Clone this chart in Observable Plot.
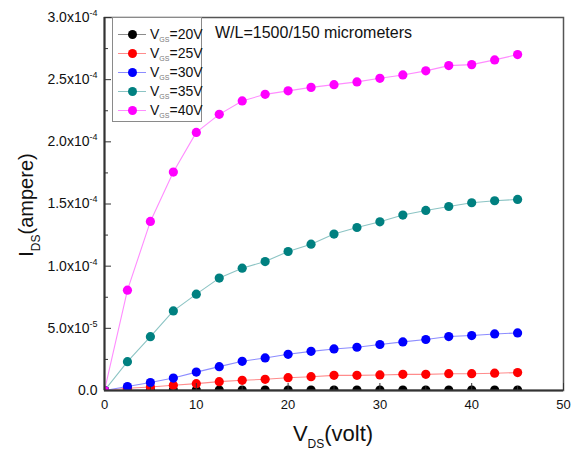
<!DOCTYPE html>
<html>
<head>
<meta charset="utf-8">
<script src="https://cdn.jsdelivr.net/npm/d3@7"></script>
<script src="https://cdn.jsdelivr.net/npm/@observablehq/plot@0.6"></script>
<style>
  body { margin: 0; background: #fff; font-family: "Liberation Sans", Arial, sans-serif; }
  #wrap { position: relative; width: 571px; height: 452px; overflow: hidden; }
  .legend { position: absolute; left: 112px; top: 17px; width: 90px; height: 105px; border: 1px solid #8a8a8a; box-sizing: border-box; background: #fff; }
  .row { position: absolute; left: 0; width: 100%; height: 19px; }
  .row .ln { position: absolute; left: 5px; width: 28px; top: 9px; height: 1px; }
  .row .dt { position: absolute; left: 15px; top: 5px; width: 9px; height: 9px; border-radius: 50%; }
  .row .tx { position: absolute; left: 37px; top: 0; font-size: 14px; line-height: 19px; color: #111; white-space: nowrap; }
  .row .tx sub { font-size: 7px; color: #777; vertical-align: -3px; }
  .note { position: absolute; left: 215px; top: 24px; font-size: 16px; line-height: 18px; color: #111; white-space: nowrap; }
  .xlab { position: absolute; left: 233px; width: 200px; top: 423px; text-align: center; font-size: 22px; line-height: 22px; color: #111; white-space: nowrap; }
  .xlab sub, .ylab sub { font-size: 12px; vertical-align: -7px; }
  .ylab { position: absolute; left: -74px; width: 200px; top: 193px; height: 24px; text-align: center; font-size: 20px; line-height: 24px; color: #111; white-space: nowrap; transform: rotate(-90deg); transform-origin: 50% 50%; }
</style>
</head>
<body>
<div id="wrap"></div>
<script>
// ---- data (drain current in micro-ampere) ----
const vds = [0, 2.5, 5, 7.5, 10, 12.5, 15, 17.5, 20, 22.5, 25, 27.5, 30, 32.5, 35, 37.5, 40, 42.5, 45];
const ids20 = [0, 0.3, 0.3, 0.3, 0.3, 0.3, 0.3, 0.3, 0.4, 0.3, 0.3, 0.3, 0.4, 0.3, 0.3, 0.3, 0.4, 0.3, 0.3];
const ids25 = [0, 1.8, 2.8, 4.2, 5.5, 7.1, 8.2, 9.0, 10.3, 11.1, 12.2, 12.2, 12.5, 13.0, 13.0, 13.5, 13.5, 13.9, 14.4];
const ids30 = [0, 3.2, 6.4, 10.0, 14.8, 19.2, 23.5, 26.2, 29.1, 31.5, 33.4, 34.8, 37.0, 39.1, 41.0, 43.4, 44.2, 45.5, 46.3];
const ids35 = [0, 23.2, 43.3, 64.0, 77.5, 90.4, 98.4, 103.7, 111.8, 117.7, 125.8, 131.1, 135.7, 141.1, 144.8, 148.0, 151.0, 152.6, 153.7];
const ids40 = [0, 80.7, 136.0, 175.7, 207.6, 222.1, 232.9, 238.2, 241.0, 243.8, 246.0, 248.2, 251.1, 253.8, 257.1, 261.3, 262.1, 265.9, 270.2];
const microAmpere = 1e-6;

const seriesNames = ["20V", "25V", "30V", "35V", "40V"];
const seriesValues = [ids20, ids25, ids30, ids35, ids40];
const seriesColors = ["#000000", "#ff0000", "#0000ff", "#008080", "#ff00ff"];
const lineColors = ["#8c8c8c", "#ff8c8c", "#8c8cff", "#8cc4c4", "#ff8cff"];

const xTicks = [0, 10, 20, 30, 40, 50];
const xMinor = [5, 15, 25, 35, 45];
const yTicks = [0, 5e-5, 1e-4, 1.5e-4, 2e-4, 2.5e-4, 3e-4];
const yTickLabels = ["0.0", "5.0x10^-5", "1.0x10^-4", "1.5x10^-4", "2.0x10^-4", "2.5x10^-4", "3.0x10^-4"];
const yMinor = [2.5e-5, 7.5e-5, 1.25e-4, 1.75e-4, 2.25e-4, 2.75e-4];

const annotation = "W/L=1500/150 micrometers";

// ---- table ----
const table = [];
seriesNames.forEach((name, s) => {
  vds.forEach((v, i) => table.push({ vds: v, ids: seriesValues[s][i] * microAmpere, vgs: name }));
});

const plot = Plot.plot({
  width: 571,
  height: 452,
  marginLeft: 104,
  marginRight: 8,
  marginTop: 17,
  marginBottom: 62,
  style: { fontFamily: "'Liberation Sans', Arial, sans-serif", fontSize: "14px", color: "#111", background: "#fff" },
  x: { domain: [0, 50] },
  y: { domain: [0, 3e-4] },
  color: { domain: seriesNames, range: lineColors },
  marks: [
    Plot.line(table, { x: "vds", y: "ids", z: "vgs", stroke: "vgs", strokeWidth: 1.1, clip: true }),
    ...seriesNames.map((name, s) =>
      Plot.dot(table.filter(d => d.vgs === name), { x: "vds", y: "ids", r: 4.6, fill: seriesColors[s], stroke: "none", clip: true })
    ),
    Plot.frame({ stroke: "#555", strokeWidth: 1.5 }),
    Plot.ruleX([0], { stroke: "#333", strokeWidth: 2 }),
    Plot.ruleY([0], { stroke: "#333", strokeWidth: 2 }),
    Plot.axisY({ ticks: yTicks, tickSize: 0, tickPadding: 7, tickFormat: d => yTickLabels[yTicks.indexOf(d)], label: null, fontSize: 14 }),
    Plot.axisY({ ticks: yTicks, tickSize: -7, fill: "none", stroke: "#333", label: null }),
    Plot.axisY({ ticks: yMinor, tickSize: -4, fill: "none", stroke: "#333", label: null }),
    Plot.axisX({ ticks: xTicks, tickSize: 0, tickPadding: 9, label: null, fontSize: 13 }),
    Plot.axisX({ ticks: xTicks, tickSize: -7, fill: "none", stroke: "#333", label: null }),
    Plot.axisX({ ticks: xMinor, tickSize: -4, fill: "none", stroke: "#333", label: null })
  ]
});

// superscripts in y tick labels
d3.select(plot).selectAll('g[aria-label="y-axis tick label"] text').each(function () {
  const t = this.textContent;
  if (t.includes("^")) {
    const [base, exp] = t.split("^");
    const sel = d3.select(this);
    sel.text(base);
    sel.append("tspan").attr("dy", "-6").attr("font-size", "9").text(exp);
  }
});

const wrap = document.getElementById("wrap");
wrap.appendChild(plot);

// legend
const legend = document.createElement("div");
legend.className = "legend";
seriesNames.forEach((name, s) => {
  const row = document.createElement("div");
  row.className = "row";
  row.style.top = (6.5 + 19.2 * s) + "px";
  row.innerHTML = `<div class="ln" style="background:${lineColors[s]}"></div>` +
    `<div class="dt" style="background:${seriesColors[s]}"></div>` +
    `<div class="tx">V<sub>GS</sub>=${name}</div>`;
  legend.appendChild(row);
});
wrap.appendChild(legend);

const note = document.createElement("div");
note.className = "note";
note.textContent = annotation;
wrap.appendChild(note);

const xl = document.createElement("div");
xl.className = "xlab";
xl.innerHTML = "V<sub>DS</sub>(volt)";
wrap.appendChild(xl);

const yl = document.createElement("div");
yl.className = "ylab";
yl.innerHTML = "I<sub>DS</sub>(ampere)";
wrap.appendChild(yl);
</script>
</body>
</html>
